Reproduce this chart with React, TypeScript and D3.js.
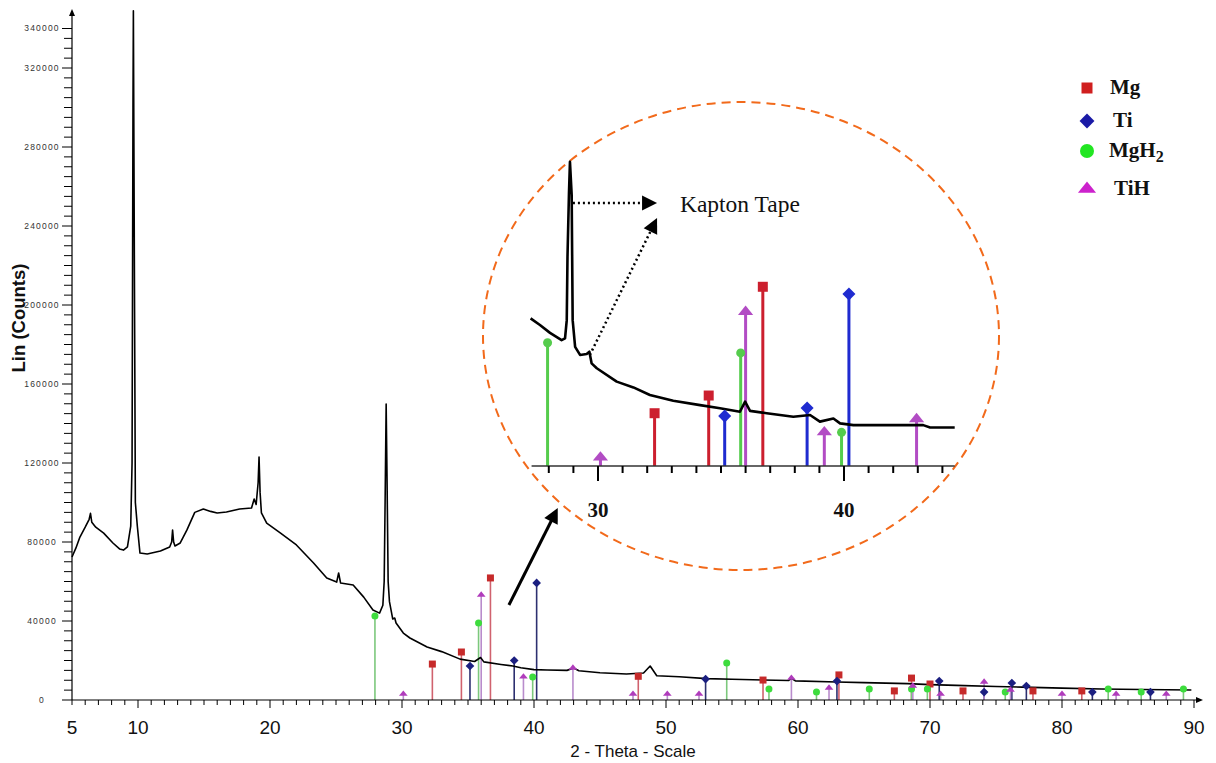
import React from "react";
import * as d3 from "d3";

const W = 1216;
const H = 763;

// ---------- main diffraction pattern (2-theta, counts) ----------
const patternX = [
  5.0, 5.3, 5.6, 6.0, 6.3, 6.4, 6.5, 6.8, 7.4, 8.1, 8.6, 8.9, 9.2, 9.45, 9.55, 9.62, 9.65, 9.72, 9.8, 9.95,
  10.15, 10.7, 11.7, 12.4, 12.55, 12.62, 12.7, 12.8, 13.2, 13.7, 14.3, 14.95, 15.5, 16.0, 16.7, 17.7, 18.6,
  18.8, 18.95, 19.1, 19.17, 19.25, 19.35, 19.75, 20.8, 22.0, 23.3, 24.3, 25.05, 25.2, 25.35, 26.3, 27.1,
  27.8, 28.3, 28.55, 28.65, 28.72, 28.8, 28.87, 28.95, 29.05, 29.3, 29.45, 29.55, 30.1, 30.6, 31.9, 33.0,
  34.4, 35.5, 35.95, 36.2, 37.5, 38.4, 39.0, 40.0, 41.0, 42.5, 43.0, 43.4, 45.0, 47.0, 48.3, 48.8, 49.3,
  51.0, 53.1, 55.0, 57.35, 59.3, 59.5, 59.8, 62.95, 65.0, 68.3, 70.0, 72.0, 75.0, 77.0, 80.0, 83.0, 86.0, 89.8,
];
const patternY = [
  72400, 77000, 82500, 87500, 91500, 94500, 90000, 87500, 84500, 79500, 76500, 75900, 77500, 88000, 120000,
  300000, 349000, 230000, 100000, 88000, 74400, 73900, 75400, 77500, 80000, 86000, 80000, 78000, 79500,
  86000, 95000, 96700, 95500, 94700, 95200, 96700, 97200, 101800, 99000, 110000, 123000, 105000, 94700,
  89600, 84500, 78500, 69400, 61800, 59700, 64300, 59200, 58200, 52100, 45600, 44000, 48000, 60000,
  100000, 149900, 110000, 60000, 49800, 41000, 41500, 39000, 33900, 31400, 26800, 24500, 20700, 19500,
  21500, 19300, 18000, 17200, 16300, 15400, 15200, 15000, 16200, 14800, 13800, 13200, 13700, 17200, 12300,
  11800, 10800, 10500, 10100, 9900, 11000, 9700, 9100, 8800, 8300, 7800, 7400, 6800, 6500, 6000, 5600,
  5300, 5100,
];

// ---------- inset (zoomed) pattern ----------
const insetX = [
  27.26, 27.64, 28.05, 28.52, 28.66, 28.73, 28.76, 28.82, 28.86, 28.93, 28.97, 29.07, 29.27, 29.54, 29.65,
  29.74, 29.95, 30.76, 31.44, 32.11, 33.06, 34.15, 34.96, 35.77, 35.98, 36.18, 36.86, 37.94, 38.62, 39.02,
  39.57, 39.84, 40.38, 42.14, 43.22, 43.5, 44.5,
];
const insetY = [
  50900, 48600, 45900, 43400, 44000, 50300, 72200, 94100, 104900, 93400, 50300, 41100, 38300, 38600, 39400,
  35400, 33700, 29100, 27100, 24500, 22500, 21000, 19900, 18700, 22200, 19000, 18200, 17000, 17600, 15300,
  16400, 14700, 14100, 14100, 14100, 13300, 13300,
];

// ---------- reference peak positions ----------
const mgX = [32.3, 34.5, 36.7, 47.9, 57.35, 63.1, 67.3, 68.6, 70.0, 72.5, 77.8, 81.5];
const mgY = [18200, 24300, 61800, 12000, 10100, 12700, 4600, 11100, 8100, 4600, 4600, 4600];
const tiX = [35.15, 38.5, 40.2, 53.0, 62.95, 70.7, 74.1, 76.2, 77.3, 82.3, 86.7];
const tiY = [17200, 20000, 59300, 10600, 9600, 9600, 4000, 8600, 7100, 4000, 4000];
const mgh2X = [27.95, 35.8, 39.9, 54.6, 57.8, 61.4, 65.4, 68.6, 69.8, 75.7, 83.5, 86.0, 89.2];
const mgh2Y = [42500, 39000, 11600, 18700, 5600, 4000, 5600, 5600, 5600, 4000, 5600, 4000, 5600];
const tihX = [30.1, 36.0, 39.2, 42.95, 47.5, 50.1, 52.5, 59.5, 62.35, 68.7, 70.8, 74.1, 76.1, 80.0, 84.1, 87.9];
const tihY = [3500, 53700, 12200, 16700, 3500, 3500, 3500, 11600, 6600, 7600, 3500, 9600, 5600, 3500, 3500, 3500];

// ---------- labels ----------
const xTickLabels = [5, 10, 20, 30, 40, 50, 60, 70, 80, 90];
const yTickLabels = [0, 40000, 80000, 120000, 160000, 200000, 240000, 280000, 320000, 340000];
const insetTickLabels = [30, 40];
const legendNames = ["Mg", "Ti", "MgH", "TiH"];
const xTitle = "2 - Theta - Scale";
const yTitle = "Lin (Counts)";
const insetNote = "Kapton Tape";

type Shape = "square" | "diamond" | "circle" | "triangle";

const series = [
  { name: legendNames[0], xs: mgX, ys: mgY, shape: "square" as Shape, mark: "#c62a2a", stem: "#d0626e", inset: "#cc1f2e", legend: "#d01f1f" },
  { name: legendNames[1], xs: tiX, ys: tiY, shape: "diamond" as Shape, mark: "#1b1f80", stem: "#2d3070", inset: "#1f2bd0", legend: "#1a1aa6" },
  { name: legendNames[2], xs: mgh2X, ys: mgh2Y, shape: "circle" as Shape, mark: "#3ddc3d", stem: "#7cc87c", inset: "#55cc4c", legend: "#22e622" },
  { name: legendNames[3], xs: tihX, ys: tihY, shape: "triangle" as Shape, mark: "#b03cbc", stem: "#b98ccc", inset: "#b24cc4", legend: "#cc22cc" },
];

function shapePath(shape: Shape, s: number): string {
  if (shape === "square") return `M${-s / 2},${-s / 2}h${s}v${s}h${-s}Z`;
  if (shape === "diamond") {
    const d = s * 0.62;
    return `M0,${-d}L${d},0L0,${d}L${-d},0Z`;
  }
  if (shape === "circle") {
    const r = s / 2;
    return `M${r},0A${r},${r} 0 1,1 ${-r},0A${r},${r} 0 1,1 ${r},0Z`;
  }
  const w = s * 1.45;
  const h = s * 0.9;
  return `M${-w / 2},${h / 2}L${w / 2},${h / 2}L0,${-h / 2}Z`;
}

function arrowHead(x1: number, y1: number, x2: number, y2: number, len: number, half: number): string {
  const dx = x2 - x1;
  const dy = y2 - y1;
  const L = Math.sqrt(dx * dx + dy * dy);
  const ux = dx / L;
  const uy = dy / L;
  const bx = x2 - ux * len;
  const by = y2 - uy * len;
  return `M${x2},${y2}L${bx - uy * half},${by + ux * half}L${bx + uy * half},${by - ux * half}Z`;
}

function shortened(a: { x1: number; y1: number; x2: number; y2: number }, by: number) {
  const L = Math.hypot(a.x2 - a.x1, a.y2 - a.y1);
  return { x: a.x2 - ((a.x2 - a.x1) / L) * by, y: a.y2 - ((a.y2 - a.y1) / L) * by };
}

const SANS = "'Liberation Sans', Arial, sans-serif";
const SERIF = "'Liberation Serif', 'Times New Roman', serif";

export default function App() {
  // main scales
  const x = d3.scaleLinear().domain([5, 90]).range([72, 1194]);
  const y = d3.scaleLinear().domain([0, 340000]).range([700, 28.5]);
  // inset scales
  const ix = d3.scaleLinear().domain([30, 40]).range([598, 844]);
  const iy = d3.scaleLinear().domain([0, 100000]).range([466, 176]);

  const line = d3
    .line<number>()
    .x((_, i) => x(patternX[i]))
    .y((d) => y(d));
  const insetLine = d3
    .line<number>()
    .x((_, i) => ix(insetX[i]))
    .y((d) => iy(d));

  const xMinor = d3.range(5, 91, 1);
  const yMinor = d3.range(0, 340001, 5000);
  const insetMinor = d3.range(28, 45, 1);

  const insetLo = 27.3;
  const insetHi = 44.5;

  // annotation anchors (data space)
  const mainArrow = { x1: x(38.1), y1: y(48100), x2: x(41.8), y2: y(97200) };
  const dot1 = { x1: ix(28.98), y1: iy(90700), x2: ix(32.4), y2: iy(90700) };
  const dot2 = { x1: ix(29.67), y1: iy(38300), x2: ix(32.4), y2: iy(85500) };
  const mEnd = shortened(mainArrow, 12);
  const d1End = shortened(dot1, 13);
  const d2End = shortened(dot2, 13);

  const legendRows = [
    { y: 88, tx: 1110, ty: 94 },
    { y: 121, tx: 1113, ty: 127 },
    { y: 151, tx: 1109, ty: 157 },
    { y: 187, tx: 1114, ty: 195 },
  ];
  const legendSizes = [11, 12, 14, 12.5];

  return (
    <svg width={W} height={H} viewBox={`0 0 ${W} ${H}`} style={{ position: "absolute", left: 0, top: 0, background: "#fff" }}>
      <rect x={0} y={0} width={W} height={H} fill="#fff" />

      {/* dashed zoom circle */}
      <ellipse cx={741} cy={336} rx={258} ry={234} fill="none" stroke="#f26a1b" strokeWidth={2} strokeDasharray="9 6" />

      {/* ---------- inset ---------- */}
      <g>
        {series.map((s) =>
          s.xs.map((v, i) =>
            v >= insetLo && v <= insetHi ? (
              <line key={`is-${s.name}-${i}`} x1={ix(v)} x2={ix(v)} y1={iy(0)} y2={iy(s.ys[i])} stroke={s.inset} strokeWidth={3} />
            ) : null
          )
        )}
        <path d={insetLine(insetY) || ""} fill="none" stroke="#000" strokeWidth={2.6} strokeLinejoin="round" />
        <line x1={ix(insetLo)} x2={ix(insetHi)} y1={iy(0)} y2={iy(0)} stroke="#333" strokeWidth={1.5} />
        {insetMinor.map((t) => {
          const major = t % 10 === 0;
          return <line key={`it-${t}`} x1={ix(t)} x2={ix(t)} y1={iy(0)} y2={iy(0) + (major ? 15 : 7)} stroke="#000" strokeWidth={2} />;
        })}
        {insetTickLabels.map((t) => (
          <text key={`il-${t}`} x={ix(t)} y={517} textAnchor="middle" fontFamily={SERIF} fontWeight="bold" fontSize={21} fill="#111">
            {t}
          </text>
        ))}
        {series.map((s) =>
          s.xs.map((v, i) =>
            v >= insetLo && v <= insetHi ? (
              <path
                key={`im-${s.name}-${i}`}
                d={shapePath(s.shape, s.shape === "square" ? 10 : s.shape === "diamond" ? 10.5 : s.shape === "circle" ? 9 : 10.5)}
                transform={`translate(${ix(v)},${iy(s.ys[i])})`}
                fill={s.inset}
              />
            ) : null
          )
        )}
        {/* Kapton tape annotations */}
        <line x1={dot1.x1} y1={dot1.y1} x2={d1End.x} y2={d1End.y} stroke="#000" strokeWidth={2.5} strokeDasharray="2 3" />
        <path d={arrowHead(dot1.x1, dot1.y1, dot1.x2, dot1.y2, 15, 7.5)} fill="#000" />
        <line x1={dot2.x1} y1={dot2.y1} x2={d2End.x} y2={d2End.y} stroke="#000" strokeWidth={2.5} strokeDasharray="2 3" />
        <path d={arrowHead(dot2.x1, dot2.y1, dot2.x2, dot2.y2, 15, 7.5)} fill="#000" />
        <text x={ix(33.33)} y={212} fontFamily={SERIF} fontSize={23.5} fill="#111">
          {insetNote}
        </text>
      </g>

      {/* ---------- main plot ---------- */}
      <g>
        {series.map((s) =>
          s.xs.map((v, i) => (
            <line key={`ms-${s.name}-${i}`} x1={x(v)} x2={x(v)} y1={y(0)} y2={y(s.ys[i])} stroke={s.stem} strokeWidth={1.6} />
          ))
        )}
        <path d={line(patternY) || ""} fill="none" stroke="#000" strokeWidth={1.6} strokeLinejoin="round" />
        {series.map((s) =>
          s.xs.map((v, i) => (
            <path
              key={`mm-${s.name}-${i}`}
              d={shapePath(s.shape, s.shape === "triangle" ? 6 : 7)}
              transform={`translate(${x(v)},${y(s.ys[i])})`}
              fill={s.mark}
            />
          ))
        )}
        {/* arrow pointing to the zoomed region */}
        <line x1={mainArrow.x1} y1={mainArrow.y1} x2={mEnd.x} y2={mEnd.y} stroke="#000" strokeWidth={3} />
        <path d={arrowHead(mainArrow.x1, mainArrow.y1, mainArrow.x2, mainArrow.y2, 15, 7.5)} fill="#000" />
      </g>

      {/* ---------- axes ---------- */}
      <g>
        <line x1={x(5)} x2={1200} y1={y(0)} y2={y(0)} stroke="#000" strokeWidth={1.2} />
        <path d={`M1203,${y(0)}L1196,${y(0) - 3}L1196,${y(0) + 3}Z`} fill="#000" />
        <line x1={x(5)} x2={x(5)} y1={y(0)} y2={12} stroke="#000" strokeWidth={1.2} />
        <path d={`M${x(5)},9L${x(5) - 3},16L${x(5) + 3},16Z`} fill="#000" />
        {xMinor.map((t) => {
          const major = t % 10 === 0;
          return <line key={`xt-${t}`} x1={x(t)} x2={x(t)} y1={y(0)} y2={y(0) + (major ? 8 : 5)} stroke="#000" strokeWidth={1} />;
        })}
        {xTickLabels.map((t) => (
          <text key={`xl-${t}`} x={x(t)} y={734} textAnchor="middle" fontFamily={SANS} fontSize={19} fill="#111">
            {t}
          </text>
        ))}
        {yMinor.map((t) => {
          const major = yTickLabels.indexOf(t) >= 0;
          return <line key={`yt-${t}`} x1={x(5) - (major ? 10 : 8)} x2={x(5)} y1={y(t)} y2={y(t)} stroke="#000" strokeWidth={1} />;
        })}
        {yTickLabels.map((t) => (
          <text
            key={`yl-${t}`}
            x={42}
            y={y(t)}
            dy="0.35em"
            textAnchor="middle"
            fontFamily={SANS}
            fontSize={8.5}
            letterSpacing={1.2}
            fill="#333"
          >
            {t}
          </text>
        ))}
        <text x={633} y={757} textAnchor="middle" fontFamily={SANS} fontSize={17} fill="#111">
          {xTitle}
        </text>
        <text
          transform={`translate(25,318) rotate(-90)`}
          textAnchor="middle"
          fontFamily={SANS}
          fontWeight="bold"
          fontSize={18.5}
          fill="#111"
        >
          {yTitle}
        </text>
      </g>

      {/* ---------- legend ---------- */}
      <g>
        {series.map((s, i) => (
          <g key={`lg-${s.name}`}>
            <path d={shapePath(s.shape, legendSizes[i])} transform={`translate(1087,${legendRows[i].y})`} fill={s.legend} />
            <text x={legendRows[i].tx} y={legendRows[i].ty} fontFamily={SERIF} fontWeight="bold" fontSize={21} fill="#111">
              {s.name}
              {i === 2 ? (
                <tspan fontSize={16} dy={5}>
                  2
                </tspan>
              ) : null}
            </text>
          </g>
        ))}
      </g>
    </svg>
  );
}
